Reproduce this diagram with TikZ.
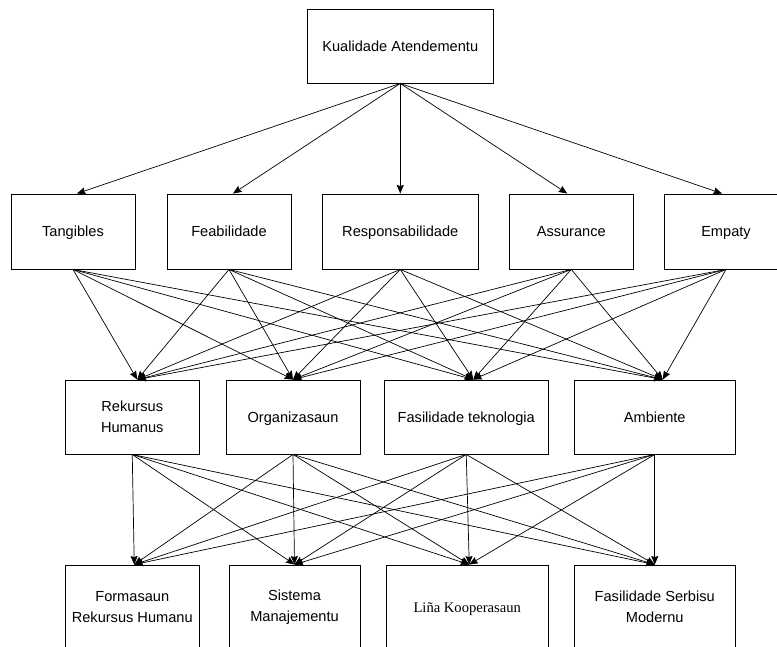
\documentclass[tikz,border=0pt]{standalone}
\usepackage{fontspec}
\setmainfont{Liberation Sans}
\newfontfamily\serifface{Liberation Serif}
\usetikzlibrary{arrows.meta}
\begin{document}
\begin{tikzpicture}[x=1pt,y=-1pt,
  box/.style={draw=black, line width=0.9pt, fill=white, inner sep=2pt, align=center,
    font=\fontsize{14.6}{21}\selectfont},
  oneline/.style={text height=13.5pt, text depth=3pt},
  arr/.style={draw=black, line width=0.7pt, -{Stealth[length=8.5pt,width=7pt,inset=1pt]}}]
\useasboundingbox (0,0) rectangle (777,646);
\clip (0,0) rectangle (777,646);
% top
\node[box, oneline, minimum width=186.5pt, minimum height=74pt] (top) at (400.25,46) {Kualidade Atendementu};
% row 2
\node[box, oneline, minimum width=124pt, minimum height=75pt] (tang) at (73,231.5) {Tangibles};
\node[box, oneline, minimum width=124pt, minimum height=75pt] (feab) at (229,231.5) {Feabilidade};
\node[box, oneline, minimum width=155.5pt, minimum height=75pt] (resp) at (400.25,231.5) {Responsabilidade};
\node[box, oneline, minimum width=124.5pt, minimum height=75pt] (assu) at (571.25,231.5) {Assurance};
\node[box, oneline, minimum width=124pt, minimum height=75pt] (emp) at (726,231.5) {Empaty};
% row 3
\node[box, minimum width=134.5pt, minimum height=74pt] (rek) at (132.25,417) {Rekursus\\Humanus};
\node[box, oneline, minimum width=134pt, minimum height=74pt] (org) at (293,417) {Organizasaun};
\node[box, oneline, minimum width=163.5pt, minimum height=74pt] (fas) at (466.25,417) {Fasilidade teknologia};
\node[box, oneline, minimum width=161.5pt, minimum height=74pt] (amb) at (654.75,417) {Ambiente};
% row 4
\node[box, minimum width=134.5pt, minimum height=84pt] (form) at (132.25,607) {Formasaun\\Rekursus Humanu};
\node[box, minimum width=131pt, minimum height=84pt] (sis) at (294.5,607) {Sistema\\Manajementu};
\node[box, oneline, minimum width=161.5pt, minimum height=84pt] (lina) at (467.25,607) {\serifface Liña Kooperasaun};
\node[box, minimum width=161.5pt, minimum height=84pt] (fss) at (654.75,607) {Fasilidade Serbisu\\Modernu};
% top -> row 2
\draw[arr] (top.south) -- ([xshift=4pt]tang.north);
\draw[arr] (top.south) -- ([xshift=4pt]feab.north);
\draw[arr] (top.south) -- (resp.north);
\draw[arr] (top.south) -- ([xshift=-4pt]assu.north);
\draw[arr] (top.south) -- ([xshift=-4pt]emp.north);
% row 2 -> row 3
\foreach \s in {tang,feab,resp,assu,emp}{
  \draw[arr] (\s.south) -- ([xshift=5pt]rek.north);
  \draw[arr] (\s.south) -- (org.north);
  \draw[arr] (\s.south) -- ([xshift=7pt]fas.north);
  \draw[arr] (\s.south) -- ([xshift=8pt]amb.north);
}
% row 3 -> row 4
\foreach \s in {rek,org,fas,amb}{
  \draw[arr] (\s.south) -- ([xshift=2pt]form.north);
  \draw[arr] (\s.south) -- (sis.north);
  \draw[arr] (\s.south) -- ([xshift=2pt]lina.north);
  \draw[arr] (\s.south) -- (fss.north);
}
\end{tikzpicture}
\end{document}
